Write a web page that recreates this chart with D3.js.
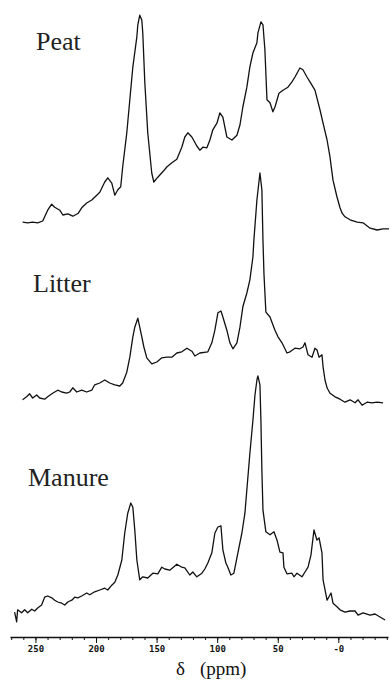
<!DOCTYPE html>
<html lang="en">
<head>
  <meta charset="utf-8">
  <title>13C NMR spectra</title>
  <script src="https://cdn.jsdelivr.net/npm/d3@7/dist/d3.min.js"></script>
  <style>
    body { margin: 0; background: #fff; }
    .spec { fill: none; stroke: #111; stroke-width: 1.3px; stroke-linejoin: round; }
    .name { font: 26px 'Liberation Serif', 'Times New Roman', serif; fill: #222; }
    .axis path, .axis line { stroke: #111; }
    .axis path { stroke-width: 1.5px; }
    .axis text { font: bold 9px 'DejaVu Sans Mono', monospace; fill: #111; }
    .title { font: 19px 'Liberation Serif', serif; fill: #111; }
  </style>
</head>
<body>
<div id="chart"></div>
<script>
// chemical shift (ppm) , relative intensity
const peat = [
  [260.6,1.3],[256.4,1.2],[252.3,1.3],[248.2,1.2],[244.0,1.5],[239.9,3.3],[236.6,4.3],[234.1,3.8],
  [229.9,3.3],[227.4,2.5],[223.3,2.7],[219.1,2.3],[214.6,2.8],[211.8,3.7],[207.7,4.5],[203.5,5.0],
  [199.4,5.8],[196.9,6.3],[192.8,8.0],[190.3,8.7],[187.0,7.8],[184.5,5.8],[182.0,6.7],[179.6,7.2],
  [178.0,10.5],[174.6,16.2],[172.1,21.7],[169.6,27.2],[166.3,32.2],[165.5,34.2],[163.9,35.8],
  [162.2,35.0],[161.4,32.8],[159.7,24.5],[157.3,16.2],[154.0,9.5],[152.3,8.0],[149.0,8.8],
  [144.9,9.7],[141.6,10.5],[137.4,11.2],[133.3,11.8],[129.2,13.8],[126.7,15.5],[124.2,16.2],
  [120.9,15.5],[116.8,14.0],[114.3,13.3],[111.8,13.8],[108.5,13.7],[106.0,15.0],[103.6,16.7],
  [100.2,17.8],[97.8,19.5],[95.3,18.8],[92.0,15.5],[87.8,15.0],[83.7,15.8],[81.2,17.5],
  [78.8,20.5],[75.5,23.8],[73.0,27.2],[70.5,29.5],[67.2,31.2],[66.4,32.8],[63.9,34.7],
  [62.2,34.2],[60.6,30.0],[58.9,21.7],[56.4,21.2],[54.0,19.7],[52.3,20.5],[49.0,22.8],
  [45.7,23.3],[41.6,23.8],[38.3,24.7],[35.8,25.5],[31.7,27.0],[29.2,26.7],[25.9,25.5],
  [23.4,24.7],[19.3,23.3],[15.1,20.0],[12.6,17.8],[9.3,15.0],[6.9,12.2],[4.4,8.3],[1.1,5.5],
  [-1.4,3.7],[-3.1,2.8],[-5.5,2.2],[-9.7,1.7],[-15.5,1.3],[-20.4,1.2],[-26.2,0.3],[-32.0,0],
  [-36.9,0.2],[-41.9,0.2]
];

const litter = [
  [260.6,2.7],[257.3,3.2],[254.8,3.7],[252.3,3.0],[249.0,3.5],[246.5,3.0],[242.4,2.8],[239.9,3.2],
  [235.8,3.8],[231.6,4.3],[228.3,4.0],[224.2,3.8],[221.7,4.0],[219.2,4.7],[215.9,4.0],[211.8,4.3],
  [207.7,4.0],[203.5,4.3],[201.1,5.2],[196.9,5.5],[192.8,6.0],[188.7,5.5],[184.5,5.2],[180.4,5.0],
  [178.0,5.5],[174.6,7.3],[172.1,9.8],[169.6,13.2],[168.0,14.8],[165.5,16.3],[162.2,13.2],
  [160.5,11.5],[158.1,9.7],[154.0,8.7],[149.8,9.0],[145.7,9.7],[141.6,9.8],[137.4,9.8],
  [133.3,10.5],[129.2,10.7],[125.0,11.3],[120.9,10.8],[118.4,10.0],[114.3,10.5],[107.7,10.7],
  [104.4,12.2],[101.9,14.3],[99.4,17.2],[96.9,17.5],[95.3,16.5],[92.0,14.3],[89.5,12.2],
  [87.0,11.2],[83.7,12.2],[81.2,14.8],[78.8,18.2],[75.5,20.5],[73.0,22.7],[70.5,26.5],
  [69.7,29.3],[67.2,36.0],[64.7,40.5],[63.1,37.7],[62.2,29.3],[61.4,23.8],[59.8,17.3],
  [56.4,16.5],[52.3,14.3],[49.8,13.2],[46.5,12.2],[42.4,10.5],[39.9,10.7],[35.8,11.3],
  [31.7,11.2],[29.2,11.5],[27.5,12.2],[25.0,10.2],[21.7,9.8],[19.3,11.3],[17.6,11.0],
  [15.9,9.8],[13.5,10.2],[12.6,8.2],[11.0,6.0],[9.3,4.7],[6.9,3.8],[2.7,3.2],[-1.4,2.8],
  [-5.5,2.3],[-9.7,2.7],[-13.8,2.2],[-16.3,2.7],[-19.6,1.8],[-23.7,2.3],[-27.8,2.2],
  [-32.0,2.3],[-36.9,2.2]
];

const manure = [
  [267.2,1.3],[265.5,-0.3],[264.7,1.7],[261.4,1.2],[258.9,1.7],[256.4,1.2],[253.1,1.8],[250.6,1.5],
  [248.2,2.0],[244.9,2.5],[242.4,3.8],[239.9,4.0],[236.6,3.7],[234.1,3.3],[231.6,3.0],[228.3,2.8],
  [225.8,2.5],[223.3,3.0],[220.0,3.3],[217.6,3.8],[215.1,3.7],[211.8,4.0],[207.7,4.5],[205.2,4.2],
  [201.1,4.7],[196.9,5.0],[192.8,5.3],[190.3,5.0],[187.0,5.8],[184.5,6.3],[182.0,7.5],[178.7,10.0],
  [176.3,14.5],[173.8,17.8],[171.3,19.5],[169.6,18.8],[168.0,15.0],[166.3,10.0],[163.9,6.7],
  [161.4,7.2],[157.3,7.0],[153.1,7.8],[149.0,7.7],[145.7,8.8],[143.2,8.5],[139.1,8.3],
  [133.3,9.3],[129.2,8.8],[126.7,8.7],[122.6,7.5],[120.1,8.0],[116.8,7.2],[112.6,7.8],
  [110.2,8.5],[107.7,9.5],[104.4,11.2],[101.9,14.5],[99.4,15.5],[96.9,15.7],[95.3,11.7],
  [92.8,9.5],[91.2,8.8],[88.7,7.5],[86.2,7.8],[82.9,11.2],[79.6,14.5],[77.1,17.8],[75.5,21.7],
  [73.0,27.8],[70.5,33.3],[68.8,37.5],[67.2,40.0],[66.4,40.7],[64.7,39.2],[63.9,33.3],
  [63.1,25.0],[62.2,18.3],[59.8,14.7],[56.4,14.2],[53.1,14.7],[50.6,13.3],[48.2,11.3],
  [45.7,11.2],[44.9,8.8],[42.4,7.7],[38.3,7.8],[36.6,7.2],[34.1,7.8],[30.0,7.2],[27.5,8.0],
  [25.0,8.8],[22.6,10.8],[20.1,15.0],[17.6,13.3],[15.9,13.7],[13.5,11.2],[12.6,6.7],[9.3,3.3],
  [6.0,4.5],[4.4,2.8],[1.1,2.2],[-1.4,1.7],[-5.5,1.3],[-9.7,1.5],[-13.8,1.5],[-16.3,0.8],
  [-20.4,1.2],[-26.2,0.8],[-30.3,1.0],[-34.4,0.5],[-38.6,0]
];

const names = ["Peat", "Litter", "Manure"];
const offsets = [65, 34, 0];           // vertical stacking, intensity units
const majorTicks = [250, 200, 150, 100, 50, 0];
const minorTicks = d3.range(270, -41, -10);

const width = 390, height = 684;

const svg = d3.select("#chart").append("svg")
  .attr("width", width)
  .attr("height", height);

const x = d3.scaleLinear().domain([271, -41]).range([10, 388]);
const y = d3.scaleLinear().domain([0, 100]).range([620, 20]);

const series = [peat, litter, manure];

series.forEach((data, i) => {
  const line = d3.line()
    .x(d => x(d[0]))
    .y(d => y(d[1] + offsets[i]));
  svg.append("path")
    .datum(data)
    .attr("class", "spec")
    .attr("d", line);
});

// sample names
const namePos = [[36, 50], [33, 292], [28, 486]];
svg.selectAll("text.name")
  .data(names)
  .enter().append("text")
  .attr("class", "name")
  .attr("x", (d, i) => namePos[i][0])
  .attr("y", (d, i) => namePos[i][1])
  .text(d => d);

// axis: minor then major ticks
const axisY = 637;
svg.append("g")
  .attr("class", "axis")
  .attr("transform", `translate(0,${axisY})`)
  .call(d3.axisBottom(x).tickValues(minorTicks).tickSize(3).tickSizeOuter(0).tickFormat(""));

svg.append("g")
  .attr("class", "axis")
  .attr("transform", `translate(0,${axisY})`)
  .call(d3.axisBottom(x).tickValues(majorTicks).tickSize(6).tickSizeOuter(0).tickPadding(3)
    .tickFormat(d => d === 0 ? "-0" : d))
  .call(g => g.select(".domain").remove());

svg.append("text")
  .attr("class", "title")
  .attr("x", 176)
  .attr("y", 675)
  .text("δ");
svg.append("text")
  .attr("class", "title")
  .attr("x", 200)
  .attr("y", 675)
  .text("(ppm)");
</script>
</body>
</html>
